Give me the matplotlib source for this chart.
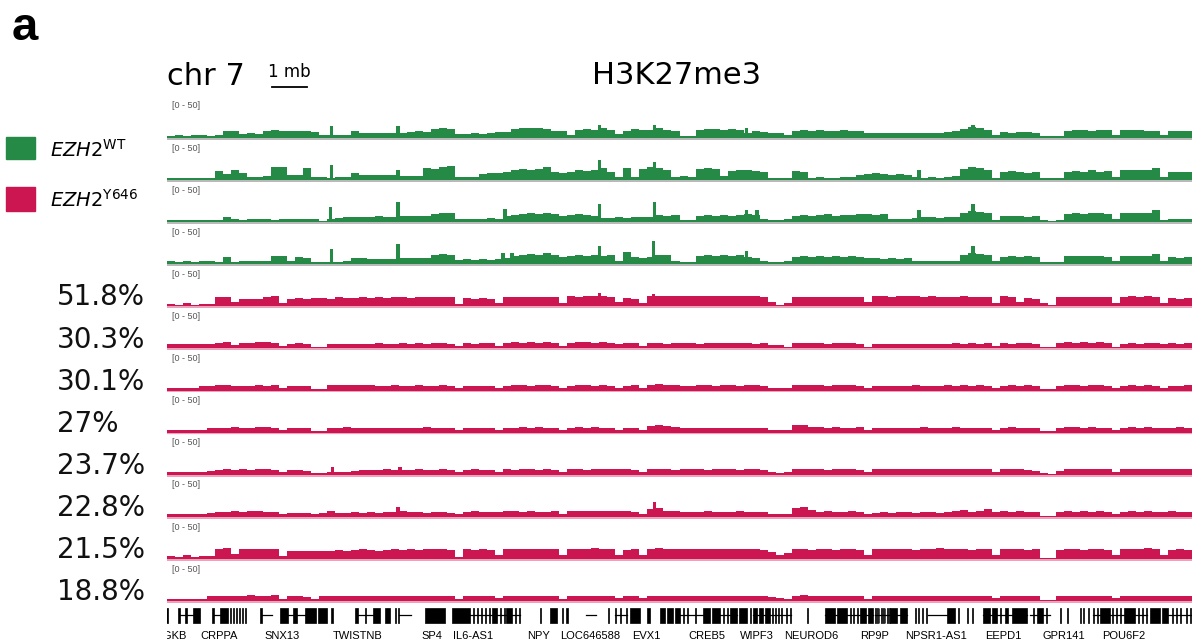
import numpy as np
import matplotlib.pyplot as plt
from matplotlib.patches import Rectangle
from matplotlib.transforms import blended_transform_factory

# chr7 window, ~29.3 Mb, signal in 128 bins, scale [0 - 50]
window_mb = 29.29

wt_1 = [4, 5, 4, 5, 5, 4, 5, 11, 12, 7, 8, 7, 12, 13, 12, 12, 11, 11, 10, 5, 5, 5, 5, 11,
        8, 8, 8, 9, 8, 9, 10, 11, 10, 15, 16, 15, 7, 7, 8, 7, 8, 10, 10, 15, 16, 16, 16, 15,
        12, 11, 5, 13, 15, 14, 16, 13, 6, 12, 15, 13, 14, 16, 13, 12, 4, 4, 14, 15, 15, 14,
        15, 14, 9, 11, 10, 8, 9, 5, 12, 13, 12, 13, 12, 12, 13, 12, 11, 8, 9, 8, 9, 9, 8, 8,
        9, 8, 9, 10, 11, 15, 18, 17, 14, 5, 10, 9, 10, 10, 9, 3, 3, 3, 12, 13, 13, 12, 13, 13,
        5, 13, 13, 14, 12, 12, 5, 11, 12, 11]
wt_2 = [3, 3, 3, 4, 3, 4, 15, 10, 16, 12, 5, 5, 6, 21, 22, 8, 9, 20, 5, 5, 4, 5, 5, 12,
        8, 8, 9, 8, 8, 6, 7, 6, 20, 18, 22, 24, 5, 5, 5, 10, 12, 11, 13, 17, 18, 17, 19, 21,
        13, 12, 14, 16, 15, 17, 20, 13, 5, 20, 5, 18, 22, 20, 17, 5, 6, 5, 19, 20, 18, 6,
        15, 17, 16, 15, 14, 4, 3, 4, 15, 14, 4, 5, 4, 4, 5, 5, 9, 10, 11, 10, 9, 10, 9,
        5, 4, 5, 4, 5, 6, 18, 21, 20, 17, 4, 13, 15, 14, 12, 13, 3, 3, 3, 14, 15, 13, 16, 14, 15,
        5, 16, 17, 16, 17, 20, 5, 13, 14, 13]
wt_3 = [4, 4, 3, 4, 4, 4, 4, 8, 5, 4, 5, 6, 5, 4, 5, 6, 6, 5, 5, 2, 5, 7, 8, 9, 8, 9, 10, 9,
        9, 10, 11, 10, 10, 14, 16, 15, 6, 6, 5, 6, 7, 6, 10, 12, 14, 15, 14, 16, 13,
        10, 12, 13, 12, 11, 7, 7, 8, 7, 8, 8, 9, 12, 11, 12, 4, 4, 11, 12, 11, 12, 11, 12,
        13, 12, 5, 4, 4, 5, 11, 12, 11, 12, 13, 11, 12, 12, 13, 13, 12, 13, 5, 5, 6,
        7, 8, 8, 7, 8, 8, 15, 18, 17, 15, 4, 10, 10, 11, 9, 10, 3, 2, 3, 13, 15, 14, 16, 15, 13,
        6, 15, 16, 16, 15, 20, 4, 5, 6, 5]
wt_4 = [5, 4, 5, 4, 5, 5, 4, 12, 4, 5, 5, 6, 5, 13, 14, 6, 12, 11, 4, 3, 4, 4, 5, 10, 10,
        8, 9, 8, 9, 10, 10, 11, 10, 15, 17, 16, 7, 8, 7, 8, 7, 9, 10, 14, 15, 17, 16, 18, 15,
        12, 14, 15, 13, 16, 14, 15, 5, 20, 12, 11, 12, 15, 16, 5, 4, 4, 13, 15, 14, 16, 14, 15,
        12, 11, 5, 4, 4, 5, 12, 13, 12, 13, 12, 13, 12, 13, 12, 10, 10, 9, 10, 9, 10,
        5, 6, 5, 6, 5, 6, 15, 18, 17, 15, 5, 12, 13, 12, 13, 12, 3, 3, 3, 13, 14, 13, 14, 13, 12,
        5, 13, 14, 13, 14, 17, 5, 12, 11, 12]

mut_1 = [4, 3, 5, 3, 4, 4, 15, 16, 7, 12, 13, 12, 16, 17, 5,
         13, 14, 13, 14, 14, 13, 15, 14, 14, 15, 14, 15, 14, 15, 15, 14, 15,
         15, 16, 15, 15, 4, 14, 13, 14, 13, 6, 15, 16, 15, 16, 15, 16, 15, 6,
         17, 16, 17, 18, 17, 16, 8, 14, 13, 5, 18, 17, 18, 17, 18,
         17, 18, 17, 18, 17, 18, 17, 18, 17, 16, 8, 3, 5, 15, 16, 15, 16, 16, 15, 16, 15, 15, 7,
         17, 18, 16, 17, 18, 17, 16, 17, 15, 16, 15, 17, 16, 15, 16, 6, 17, 16, 7, 14, 13, 5, 3,
         15, 16, 15, 15, 16, 15, 16, 6, 16, 17, 16, 17, 16, 6, 14, 13, 14]
mut_2 = [7, 7, 8, 7, 8, 8, 9, 10, 5, 9, 9, 10, 10, 9, 4, 8, 9, 8, 3, 2,
         7, 8, 8, 7, 8, 8, 9, 8, 8, 9, 8, 9, 8, 9, 9, 8, 4, 9, 8, 9, 9, 4,
         9, 10, 9, 10, 9, 10, 9, 4, 9, 10, 10, 9, 10, 9, 8, 9, 9, 4,
         9, 9, 8, 9, 9, 9, 8, 9, 9, 9, 9, 9, 9, 8, 9, 5, 5, 3, 9, 9, 9, 9, 8, 9, 9, 9, 8, 3,
         8, 8, 7, 8, 8, 8, 8, 7, 8, 8, 9, 8, 9, 8, 9, 4, 9, 8, 9, 9, 8, 2, 2,
         9, 10, 9, 10, 9, 10, 9, 3, 8, 9, 8, 9, 9, 8, 9, 8, 9]
mut_3 = [5, 5, 4, 5, 7, 8, 9, 10, 8, 8, 8, 9, 8, 9, 4, 8, 8, 7, 3, 2,
         9, 10, 9, 9, 10, 9, 8, 8, 9, 8, 8, 9, 8, 8, 9, 8, 4, 8, 8, 7, 8, 4,
         8, 9, 9, 8, 9, 9, 8, 4, 8, 9, 9, 8, 9, 8, 5, 8, 9, 5, 10, 11, 9, 9, 8,
         8, 9, 9, 8, 9, 9, 8, 9, 9, 8, 5, 5, 4, 10, 9, 9, 9, 8, 9, 9, 9, 8, 4,
         8, 8, 7, 8, 8, 9, 8, 8, 8, 9, 8, 9, 8, 9, 8, 4, 8, 9, 8, 9, 8, 2, 2,
         8, 9, 9, 8, 9, 9, 8, 4, 8, 9, 8, 9, 8, 4, 8, 8, 9]
mut_4 = [5, 5, 5, 4, 5, 7, 8, 8, 9, 8, 8, 9, 9, 8, 4, 8, 8, 7, 3, 3,
         8, 8, 9, 8, 8, 8, 7, 8, 8, 8, 8, 8, 9, 8, 8, 8, 4, 7, 8, 7, 8, 4,
         8, 8, 9, 8, 9, 8, 8, 4, 8, 9, 8, 9, 8, 8, 4, 8, 7, 4, 11, 13, 11, 9, 8,
         8, 8, 7, 8, 8, 8, 8, 7, 8, 8, 5, 5, 4, 13, 12, 9, 9, 8, 9, 8, 8, 9, 4,
         8, 8, 7, 8, 8, 8, 9, 8, 8, 8, 9, 8, 8, 8, 8, 4, 8, 9, 8, 8, 8, 2, 2,
         8, 9, 9, 8, 9, 8, 8, 4, 8, 9, 8, 9, 8, 8, 8, 9, 8]
mut_5 = [5, 4, 5, 5, 5, 7, 8, 9, 8, 9, 8, 9, 9, 8, 4, 8, 8, 7, 3, 3, 5, 5, 5, 6,
         8, 8, 8, 9, 8, 8, 8, 9, 8, 8, 9, 8, 5, 8, 9, 8, 8, 5, 9, 8, 9, 9, 8, 9, 8, 4,
         9, 9, 8, 9, 9, 10, 9, 9, 8, 4, 10, 9, 9, 8, 9, 9, 9, 8, 9, 9, 9, 8, 9, 9, 8,
         5, 3, 5, 9, 9, 9, 9, 8, 9, 9, 9, 8, 4,
         9, 9, 10, 9, 9, 10, 9, 9, 10, 9, 9, 10, 9, 9, 9, 5, 9, 10, 9, 8, 6, 3, 2,
         6, 9, 10, 9, 10, 9, 9, 4, 9, 10, 9, 10, 9, 9, 9, 10, 9]
mut_6 = [5, 4, 5, 4, 5, 7, 8, 8, 9, 8, 9, 9, 8, 8, 4, 6, 6, 6, 5, 6, 10,
         7, 7, 8, 7, 8, 7, 8, 8, 9, 8, 8, 7, 8, 8, 7, 5, 8, 9, 8, 8, 8, 9, 9, 8, 9, 8, 8, 9, 4,
         9, 9, 10, 9, 9, 10, 9, 9, 8, 4, 13, 15, 10, 9, 8, 8, 8, 9, 8, 8, 8, 9, 8, 8, 8,
         5, 5, 4, 15, 16, 12, 8, 9, 8, 8, 9, 8, 4, 7, 8, 7, 8, 8, 7, 8, 8, 7,
         8, 9, 12, 8, 9, 13, 8, 9, 8, 9, 8, 8, 2, 2,
         8, 9, 8, 9, 8, 9, 8, 4, 8, 9, 8, 9, 8, 8, 9, 8, 8]
mut_7 = [5, 4, 6, 4, 5, 5, 16, 18, 8, 16, 17, 16, 17, 17, 5, 14, 13, 14, 13, 13,
         14, 15, 14, 15, 16, 15, 14, 15, 16, 15, 16, 15, 16, 17, 16, 15, 4, 16, 15, 16, 15, 6,
         16, 17, 16, 17, 16, 17, 16, 6, 16, 17, 17, 18, 17, 16, 7, 15, 16, 6,
         17, 18, 17, 16, 16, 17, 16, 17, 16, 17, 17, 16, 16, 17, 15, 11, 6, 10,
         16, 16, 15, 16, 16, 15, 16, 16, 15, 6,
         16, 17, 16, 17, 16, 15, 17, 16, 18, 17, 16, 17, 15, 16, 17, 6, 16, 17, 16, 15, 16, 2, 2,
         15, 16, 16, 15, 16, 16, 15, 6, 16, 17, 16, 18, 17, 6, 15, 16, 15]
mut_8 = [3, 3, 4, 3, 3, 8, 9, 9, 8, 9, 10, 9, 9, 10, 4, 8, 8, 7, 4,
         8, 8, 8, 9, 8, 8, 8, 9, 8, 8, 8, 9, 8, 8, 9, 8, 8, 4,
         8, 8, 9, 8, 5, 8, 9, 8, 8, 9, 8, 8, 4, 8, 9, 8, 9, 9, 8, 5, 8, 8, 5,
         9, 8, 9, 8, 8, 9, 8, 9, 8, 8, 9, 8, 8, 9, 8, 6, 5, 4, 9, 10, 9, 9, 8, 9, 9, 8, 8, 4,
         8, 8, 8, 9, 8, 8, 9, 8, 8, 9, 8, 9, 8, 9, 8, 5, 8, 9, 8, 8, 8, 2, 2,
         8, 9, 9, 8, 9, 8, 9, 5, 8, 9, 8, 9, 8, 8, 9, 8, 8]

# narrow peaks: (position in Mb, signal)
wt_1_peaks = [(4.71, 20), (6.60, 20), (12.37, 22), (13.94, 22), (16.57, 17), (23.03, 22)]
wt_2_peaks = [(4.71, 25), (6.60, 17), (12.37, 33), (13.94, 30), (21.49, 17)]
wt_3_peaks = [(4.66, 25), (6.60, 33), (9.66, 22), (12.37, 30), (13.94, 33), (16.57, 20),
              (16.86, 20), (21.49, 20), (23.03, 30)]
wt_4_peaks = [(4.71, 25), (6.60, 33), (9.60, 18), (9.86, 18), (12.37, 30), (13.89, 38),
              (16.57, 22), (23.03, 30)]
mut_1_peaks = [(12.37, 22), (13.89, 20)]
mut_5_peaks = [(4.74, 13), (6.66, 13)]
mut_6_peaks = [(6.60, 17), (13.94, 25)]

wt_tracks = [wt_1, wt_2, wt_3, wt_4]
wt_peaks = [wt_1_peaks, wt_2_peaks, wt_3_peaks, wt_4_peaks]
mut_tracks = [mut_1, mut_2, mut_3, mut_4, mut_5, mut_6, mut_7, mut_8]
mut_peaks = [mut_1_peaks, [], [], [], mut_5_peaks, mut_6_peaks, [], []]
mut_pct = ['51.8%', '30.3%', '30.1%', '27%', '23.7%', '22.8%', '21.5%', '18.8%']

# RefSeq genes (Mb)
exon_start = [-0.03, 0.31, 0.51, 0.74, 1.29, 1.51, 1.80, 1.89, 1.97, 2.06, 2.14, 2.23, 2.66,
              3.23, 3.60, 3.94, 4.31, 4.69, 5.37, 5.66, 5.89, 6.23, 6.51, 6.60, 7.37, 8.14,
              8.74, 8.86, 8.97, 9.09, 9.20, 9.29, 9.51, 9.63, 9.69, 9.94, 10.06, 10.66, 10.94,
              11.29, 11.40, 12.60, 12.80, 12.94, 13.11, 13.23, 13.71, 14.09, 14.29, 14.51,
              14.74, 14.86, 15.09, 15.31, 15.57, 15.89, 16.00, 16.09, 16.34, 16.66, 16.74,
              16.91, 17.09, 17.29, 17.37, 17.46, 17.54, 17.69, 17.80, 18.29, 18.80, 19.14,
              19.51, 19.60, 19.71, 19.80, 20.03, 20.23, 20.29, 20.34, 20.40, 20.46, 20.51,
              20.57, 20.63, 20.66, 20.94, 21.37, 21.46, 21.57, 21.69, 22.29, 22.60, 22.86,
              23.00, 23.31, 23.57, 23.80, 23.94, 24.14, 24.74, 24.86, 25.11, 25.51, 25.71,
              26.09, 26.17, 26.31, 26.46, 26.57, 26.66, 27.00, 27.11, 27.23, 27.34, 27.74,
              27.86, 27.97, 28.09, 28.43, 28.71, 28.83, 28.94, 29.11, 29.23]
exon_end = [0.03, 0.37, 0.57, 0.94, 1.34, 1.74, 1.83, 1.91, 2.00, 2.09, 2.17, 2.26, 2.71,
            3.46, 3.71, 4.26, 4.57, 4.74, 5.46, 5.69, 6.09, 6.37, 6.54, 6.63, 7.94, 8.66,
            8.77, 8.89, 9.00, 9.11, 9.23, 9.43, 9.54, 9.66, 9.86, 9.97, 10.09, 10.69, 11.14,
            11.31, 11.46, 12.63, 12.83, 12.97, 13.14, 13.51, 13.80, 14.23, 14.46, 14.66,
            14.77, 14.89, 15.11, 15.51, 15.80, 15.91, 16.03, 16.29, 16.57, 16.69, 16.86,
            17.03, 17.23, 17.31, 17.40, 17.49, 17.57, 17.71, 17.83, 18.31, 19.09, 19.43,
            19.54, 19.63, 19.74, 19.97, 20.17, 20.25, 20.31, 20.36, 20.42, 20.48, 20.53,
            20.59, 20.65, 20.86, 21.14, 21.40, 21.49, 21.60, 21.71, 22.51, 22.63, 22.89,
            23.03, 23.51, 23.71, 23.83, 24.03, 24.57, 24.77, 25.03, 25.14, 25.54, 25.74,
            26.11, 26.20, 26.34, 26.49, 26.60, 26.94, 27.03, 27.14, 27.26, 27.66, 27.77,
            27.89, 28.00, 28.37, 28.60, 28.74, 28.86, 28.97, 29.14, 29.26]
intron_start = [0.37, 1.34, 2.71, 3.46, 5.46, 6.63, 8.66, 11.97, 12.80, 14.66, 15.80, 16.74,
                18.80, 20.23, 21.74, 23.31, 24.66, 26.46, 28.60]
intron_end = [0.74, 1.51, 3.00, 3.94, 5.89, 6.97, 10.09, 12.26, 13.14, 15.31, 16.29, 17.83,
              20.17, 21.14, 22.29, 24.57, 25.23, 28.00, 29.29]
gene_names = ['DGKB', 'CRPPA', 'SNX13', 'TWISTNB', 'SP4', 'IL6-AS1', 'NPY', 'LOC646588',
              'EVX1', 'CREB5', 'WIPF3', 'NEUROD6', 'RP9P', 'NPSR1-AS1', 'EEPD1', 'GPR141',
              'POU6F2']
gene_pos = [0.11, 1.49, 3.29, 5.46, 7.57, 8.74, 10.63, 12.09, 13.71, 15.43, 16.86, 18.40,
            20.23, 21.97, 23.89, 25.63, 27.34]

green = '#248a45'
red = '#cc1652'

W, H = 1192, 644
fig = plt.figure(figsize=(W / 100, H / 100), dpi=100)


def fx(px):
    return px / W


def fy(py):
    return 1 - py / H


def draw_track(baseline, vals, peaks, color, line_color):
    ax = fig.add_axes([fx(167), fy(baseline + 1.8), fx(1025), 32 / H])
    ax.set_xlim(0, window_mb)
    ax.set_ylim(-3, 50)
    ax.axis('off')
    edges = np.linspace(0, window_mb, len(vals) + 1)
    ax.axhline(-1.3, color=line_color, lw=1.6, zorder=1)
    ax.fill_between(edges, np.r_[vals, vals[-1]], step='post', color=color, lw=0, zorder=2)
    if peaks:
        pos, hts = zip(*peaks)
        ax.bar(pos, hts, width=0.09, color=color, lw=0, zorder=2)
    fig.text(fx(172), fy(baseline - 32), '[0 - 50]', fontsize=6.5, color='#555555',
             family='Liberation Sans', va='center', ha='left')
    return ax


axes = []
for i in range(12):
    baseline = 138 + 42.1 * i
    if i < 4:
        ax = draw_track(baseline, wt_tracks[i], wt_peaks[i], green, '#b9b9b9')
    else:
        k = i - 4
        ax = draw_track(baseline, mut_tracks[k], mut_peaks[k], red, '#eaa3bb')
        fig.text(fx(57), fy(baseline - 9), mut_pct[k], fontsize=20, color='#111111',
                 va='center', ha='left')
    axes.append(ax)

# gene track
gax = fig.add_axes([fx(167), 0, fx(1025), 41 / H])
gax.set_xlim(0, window_mb)
gax.set_ylim(-1.9, 0.833)
gax.axis('off')
for s, e in zip(intron_start, intron_end):
    gax.plot([s, e], [0, 0], color='black', lw=0.9)
gax.broken_barh([(s, e - s) for s, e in zip(exon_start, exon_end)], (-0.5, 1.0),
                facecolors='black', edgecolors='black', linewidth=0.5)
for name, p in zip(gene_names, gene_pos):
    gax.text(p, -1.37, name, fontsize=8, family='Liberation Sans', ha='center',
             va='center', clip_on=True)

# header
top = axes[0]
bt = blended_transform_factory(top.transData, fig.transFigure)
fig.text(fx(12), fy(40), 'a', fontsize=34, fontweight='bold', family='Liberation Sans',
         va='baseline', ha='left')
top.text(0, fy(85), 'chr 7', fontsize=22, transform=bt, va='baseline', ha='left')
top.text(14.57, fy(84), 'H3K27me3', fontsize=22, transform=bt, va='baseline', ha='center')
top.text(3.5, fy(77), '1 mb', fontsize=12, transform=bt, va='baseline', ha='center')
top.plot([3.0, 4.0], [fy(87), fy(87)], color='black', lw=1.3, transform=bt, clip_on=False)

# legend
fig.patches.append(Rectangle((fx(6), fy(159)), fx(29), 22 / H, color=green,
                             transform=fig.transFigure))
fig.patches.append(Rectangle((fx(6), fy(211)), fx(29), 24 / H, color=red,
                             transform=fig.transFigure))
fig.text(fx(50), fy(157), r'$\mathit{EZH2}^{\mathrm{WT}}$', fontsize=14, va='baseline')
fig.text(fx(50), fy(207), r'$\mathit{EZH2}^{\mathrm{Y646}}$', fontsize=14, va='baseline')

fig.savefig('out.png', dpi=100)
